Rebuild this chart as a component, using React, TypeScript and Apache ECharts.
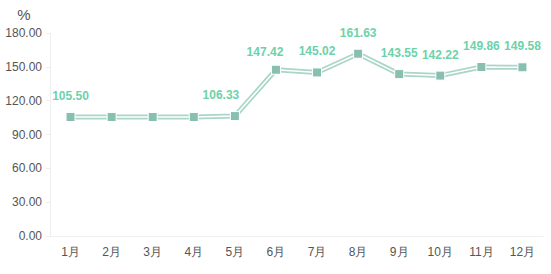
import React, { useEffect, useRef } from "react";
import * as echarts from "echarts";

const categories = ["1月", "2月", "3月", "4月", "5月", "6月", "7月", "8月", "9月", "10月", "11月", "12月"];
const values = [105.5, 105.5, 105.5, 105.5, 106.33, 147.42, 145.02, 161.63, 143.55, 142.22, 149.86, 149.58];
const labelIndices = [0, 4, 5, 6, 7, 8, 9, 10, 11];

export default function App() {
  const ref = useRef<HTMLDivElement>(null);
  useEffect(() => {
    const chart = echarts.init(ref.current!, undefined, { renderer: "svg" });
    const labelOffsets: Record<number, [number, number]> = { 4: [-14, 0], 5: [-11, 3] };
    chart.setOption({
      animation: false,
      grid: { left: 50, right: 8, top: 33, bottom: 38 },
      xAxis: {
        type: "category",
        data: categories,
        boundaryGap: true,
        axisLine: { show: true, lineStyle: { color: "#eeeeee" } },
        axisTick: { show: false },
        axisLabel: { color: "#555", fontSize: 12, margin: 10, fontFamily: "sans-serif" },
        splitLine: { show: false },
      },
      yAxis: {
        type: "value",
        name: "%",
        nameGap: 11,
        nameTextStyle: { color: "#555", fontSize: 15, padding: [0, 52, 0, 0], fontFamily: "sans-serif" },
        min: 0,
        max: 180,
        interval: 30,
        axisLine: { show: true, lineStyle: { color: "#eeeeee" } },
        axisTick: { show: true, lineStyle: { color: "#eeeeee" }, length: 4 },
        axisLabel: {
          color: "#555",
          fontSize: 12,
          margin: 8,
          fontFamily: "sans-serif",
          formatter: (v: number) => v.toFixed(2),
        },
        splitLine: { show: false },
      },
      series: [
        {
          type: "line",
          data: values,
          symbol: "none",
          silent: true,
          lineStyle: { color: "#a9d6c8", width: 5 },
          z: 2,
        },
        {
          type: "line",
          data: values.map((v, i) => ({
            value: v,
            label: labelOffsets[i] ? { offset: labelOffsets[i] } : undefined,
          })),
          symbol: "rect",
          symbolSize: 9,
          itemStyle: { color: "#88bfb0", borderColor: "#ffffff", borderWidth: 1 },
          lineStyle: { color: "#ffffff", width: 1.5 },
          label: {
            show: true,
            position: "top",
            distance: 10,
            color: "#6dd2a9",
            fontWeight: "bold",
            fontSize: 12,
            fontFamily: "sans-serif",
            formatter: (p: any) => (labelIndices.includes(p.dataIndex) ? Number(p.value).toFixed(2) : ""),
          },
          z: 3,
        },
      ],
    });
    return () => chart.dispose();
  }, []);
  return <div ref={ref} style={{ width: 551, height: 274, position: "absolute", left: 0, top: 0 }} />;
}
